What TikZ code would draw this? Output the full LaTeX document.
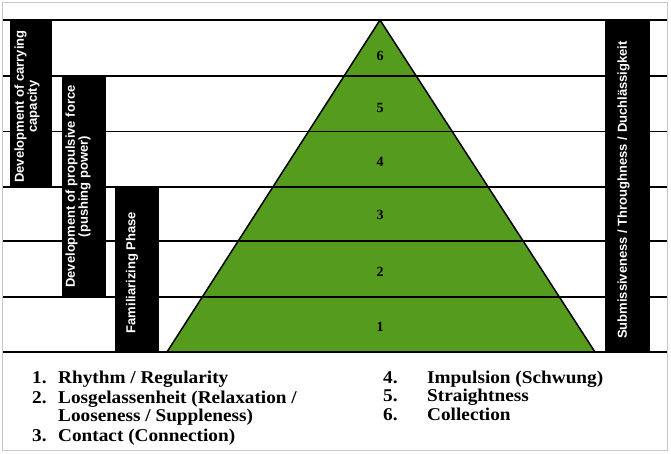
\documentclass[tikz,border=0pt]{standalone}
\usepackage{fontspec}
\setmainfont{Liberation Serif}
\newfontfamily\boxfont{Liberation Sans}
\newfontfamily\legendfont[FakeStretch=1.07]{Liberation Serif}
\definecolor{pyrgreen}{RGB}{84,155,30}
\definecolor{framegrey}{RGB}{200,200,200}
\begin{document}
\begin{tikzpicture}[x=1pt,y=-1pt,
  rule/.style={line width=1.8pt, draw=black},
  phasebox/.style={fill=black, draw=none, inner sep=0pt, outer sep=0pt},
  phasetext/.style={rotate=90, text=white, font=\boxfont\bfseries\fontsize{13}{12}\selectfont, align=center, inner sep=0pt},
  levelnum/.style={font=\bfseries\fontsize{14}{14}\selectfont, inner sep=0pt},
  legend/.style={anchor=base west, font=\legendfont\bfseries\fontsize{18}{18}\selectfont, inner sep=0pt}
]
\useasboundingbox (0,0) rectangle (671,453);
\draw[framegrey, line width=1pt] (2.5,2.5) rectangle (667.5,450.5);

% pyramid
\coordinate (apex) at (380,20);
\coordinate (bl) at (167,352);
\coordinate (br) at (595,352);
\fill[pyrgreen] (apex) -- (bl) -- (br) -- cycle;

% horizontal rules
\foreach \yy in {20,76,131.5,187,241,297,352}{
  \draw[rule] (3,\yy) -- (667,\yy);
}
\draw[line width=1.5pt, line join=miter] (apex) -- (bl) -- (br) -- cycle;

% phase boxes
\node[phasebox, minimum width=42pt, minimum height=167pt] (carry) at (31,103.5) {};
\node[phasebox, minimum width=44pt, minimum height=221pt] (propel) at (84,186.5) {};
\node[phasebox, minimum width=44pt, minimum height=165pt] (familiar) at (137,269.5) {};
\node[phasebox, minimum width=45pt, minimum height=332pt] (submit) at (627.5,186) {};

\node[phasetext] (carryT) at ([xshift=-4pt,yshift=-3pt]carry.center) {Development of carrying\\capacity};
\node[phasetext] (propelT) at ([xshift=-6pt]propel.center) {Development of propulsive force\\(pushing power)};
\node[phasetext] (familiarT) at ([xshift=-5pt,yshift=-3pt]familiar.center) {Familiarizing Phase};
\node[phasetext] (submitT) at ([xshift=-4pt,yshift=-4pt]submit.center) {Submissiveness / Throughness / Duchlässigkeit};

% level numbers
\node[levelnum] (l1) at (380,327) {1};
\node[levelnum] (l2) at (380,272) {2};
\node[levelnum] (l3) at (380,215) {3};
\node[levelnum] (l4) at (380,162) {4};
\node[levelnum] (l5) at (380,108) {5};
\node[levelnum] (l6) at (380,56) {6};

% legend
\node[legend] (k1) at (32,383.5) {1.};
\node[legend] (t1) at (58,383.5) {Rhythm / Regularity};
\node[legend] (k2) at (32,403) {2.};
\node[legend] (t2) at (58,403) {Losgelassenheit (Relaxation /};
\node[legend] (t2b) at (58,421.5) {Looseness / Suppleness)};
\node[legend] (k3) at (32,441) {3.};
\node[legend] (t3) at (58,441) {Contact (Connection)};
\node[legend] (k4) at (383,383) {4.};
\node[legend] (t4) at (427,383) {Impulsion (Schwung)};
\node[legend] (k5) at (383,401.5) {5.};
\node[legend] (t5) at (427,401.5) {Straightness};
\node[legend] (k6) at (383,420) {6.};
\node[legend] (t6) at (427,420) {Collection};
\end{tikzpicture}
\end{document}
